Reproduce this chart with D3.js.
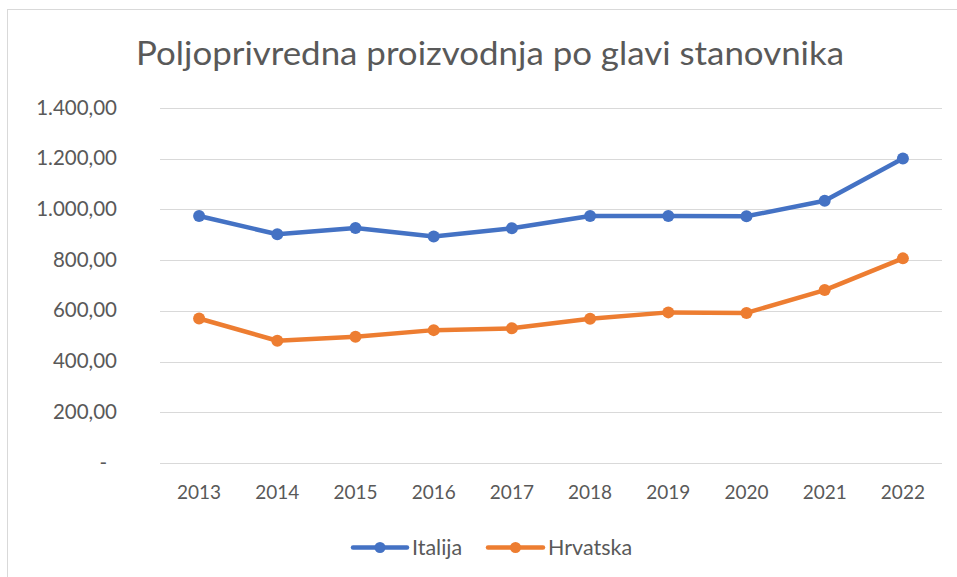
<!DOCTYPE html>
<html><head><meta charset="utf-8">
<script src="https://cdn.jsdelivr.net/npm/d3@7"></script>
<style>body{margin:0;background:#fff;}svg{display:block;}</style>
</head><body>
<script>
const years = ["2013","2014","2015","2016","2017","2018","2019","2020","2021","2022"];
const italija = [974, 902, 927, 893, 926, 974, 974, 973, 1034, 1201];
const hrvatska = [570, 482, 498, 524, 531, 569, 594, 592, 682, 807];
const yTicks = [0, 200, 400, 600, 800, 1000, 1200, 1400];
const seriesNames = ["Italija", "Hrvatska"];
const colors = ["#4472C4", "#ED7D31"];
const title = "Poljoprivredna proizvodnja po glavi stanovnika";

const W = 957, H = 577;
const svg = d3.select("body").append("svg").attr("width", W).attr("height", H);
svg.append("rect").attr("x", 7.5).attr("y", 9.5).attr("width", W + 10).attr("height", H + 10)
  .attr("fill", "#fff").attr("stroke", "#d9d9d9");

const x = d3.scaleBand().domain(years).range([160, 942]);
const y = d3.scaleLinear().domain([0, 1400]).range([463, 108]);
const font = "Lato, 'Open Sans', sans-serif";

svg.append("text").attr("x", 136).attr("y", 65)
  .attr("font-family", font).attr("font-size", 33)
  .attr("fill", "#595959").attr("textLength", 708).attr("lengthAdjust", "spacingAndGlyphs").text(title);

// gridlines
svg.append("g").selectAll("line").data(yTicks).join("line")
  .attr("x1", 160).attr("x2", 942)
  .attr("y1", d => Math.round(y(d)) + 0.5).attr("y2", d => Math.round(y(d)) + 0.5)
  .attr("stroke", "#d9d9d9").attr("stroke-width", 1);

const fmt = d => d === 0 ? "-" : d3.format(",.2f")(d).replace(/,/g, "#").replace(".", ",").replace(/#/g, ".");
svg.append("g").selectAll("text").data(yTicks).join("text")
  .attr("x", d => d === 0 ? 107 : 117).attr("y", d => y(d) + 6.5).attr("text-anchor", "end")
  .attr("font-family", font).attr("font-size", 20.5).attr("fill", "#595959").text(fmt);

svg.append("g").selectAll("text").data(years).join("text")
  .attr("x", d => x(d) + x.bandwidth() / 2).attr("y", 498.5).attr("text-anchor", "middle")
  .attr("font-family", font).attr("font-size", 19).attr("fill", "#595959").text(d => d);

const line = d3.line().x((d, i) => x(years[i]) + x.bandwidth() / 2).y(d => y(d));
[italija, hrvatska].forEach((vals, k) => {
  const g = svg.append("g");
  g.append("path").datum(vals).attr("d", line).attr("fill", "none")
    .attr("stroke", colors[k]).attr("stroke-width", 4.5).attr("stroke-linejoin", "round").attr("stroke-linecap", "round");
  g.selectAll("circle").data(vals).join("circle")
    .attr("cx", (d, i) => x(years[i]) + x.bandwidth() / 2).attr("cy", d => y(d)).attr("r", 6)
    .attr("fill", colors[k]);
});

// legend
const legX = [353, 488];
const legW = [54, 55];
seriesNames.forEach((n, k) => {
  const g = svg.append("g");
  g.append("line").attr("x1", legX[k]).attr("x2", legX[k] + legW[k]).attr("y1", 547.5).attr("y2", 547.5)
    .attr("stroke", colors[k]).attr("stroke-width", 4.5).attr("stroke-linecap", "round");
  g.append("circle").attr("cx", legX[k] + legW[k] / 2).attr("cy", 547.5).attr("r", 5.5).attr("fill", colors[k]);
  g.append("text").attr("x", legX[k] + legW[k] + 5).attr("y", 554.5).attr("font-family", font).attr("font-size", 21.5)
    .attr("fill", "#595959").text(n);
});
</script>
</body></html>
